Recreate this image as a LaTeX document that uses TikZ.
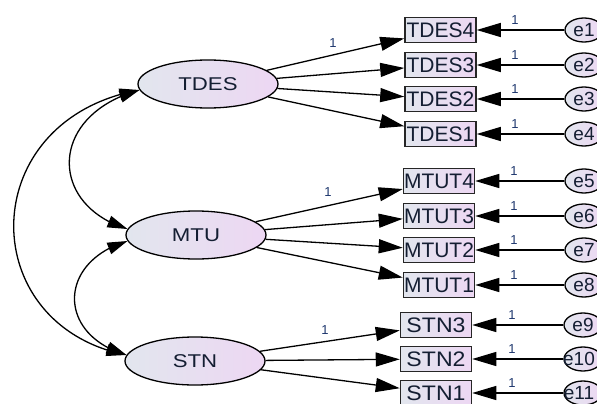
\documentclass[tikz,border=0pt]{standalone}
\usepackage{fontspec}
\setmainfont{Liberation Sans}
\usetikzlibrary{arrows.meta,shapes.geometric,bending}
\definecolor{fillL}{RGB}{226,230,238}
\definecolor{fillR}{RGB}{237,215,243}
\definecolor{navy}{RGB}{30,55,110}
\definecolor{txt}{RGB}{20,30,50}
\begin{document}
\begin{tikzpicture}[x=1pt,y=-1pt,
  latent/.style={ellipse,draw=black,line width=1.3pt,minimum width=140pt,minimum height=48pt,inner sep=0pt,left color=fillL,right color=fillR,font=\fontsize{18.5}{18.5}\selectfont,text=txt},
  obs/.style={rectangle,draw=black!85,line width=1.5pt,minimum width=71pt,minimum height=25pt,inner sep=0pt,left color=fillL,right color=fillR,font=\fontsize{21}{21}\selectfont,text=txt},
  err/.style={ellipse,draw=black,line width=1.3pt,minimum width=38pt,minimum height=24pt,inner sep=0pt,left color=fillL,right color=fillR,font=\fontsize{19}{19}\selectfont,text=txt},
  link/.style={draw,line width=1.3pt,-{Triangle[length=24pt,width=14pt]}},
  cov/.style={line width=1.3pt,{Triangle[length=20pt,width=12pt]}-{Triangle[length=20pt,width=12pt]}},
  one/.style={font=\fontsize{13}{13}\selectfont,text=navy,inner sep=0pt}]
\useasboundingbox (0,0) rectangle (597,404);
\node[latent] (TDES) at (208,84) {\scalebox{1.2}[1]{TDES}};
\node[latent] (MTU) at (196,235) {\scalebox{1.2}[1]{MTU}};
\node[latent] (STN) at (195,361) {\scalebox{1.2}[1]{STN}};
\foreach \n/\y/\e in {4/30/1,3/65/2,2/99/3,1/134/4}{
  \node[obs] (TDES\n) at (440.5,\y) {TDES\n};
  \node[err] (e\e) at (584,\y) {\makebox[0pt]{e\e}};
  \draw[link] (e\e) -- (TDES\n);
  \node[one] (l\e) at (515,\y-10) {1};
  \draw[link] (TDES) -- (TDES\n);
}
\foreach \n/\y/\e in {4/181/5,3/216/6,2/250/7,1/285/8}{
  \node[obs] (MTUT\n) at (439,\y) {MTUT\n};
  \node[err] (e\e) at (584,\y) {\makebox[0pt]{e\e}};
  \draw[link] (e\e) -- (MTUT\n);
  \node[one] (l\e) at (514,\y-10) {1};
  \draw[link] (MTU) -- (MTUT\n);
}
\node[obs] (STN3) at (436,325) {\scalebox{1.1}[1]{STN3}};
\node[obs] (STN2) at (436,359) {\scalebox{1.1}[1]{STN2}};
\node[obs] (STN1) at (436,393) {\scalebox{1.1}[1]{STN1}};
\node[err] (e9) at (583,325) {\makebox[0pt]{e9}};
\node[err] (e10) at (583,359) {\makebox[0pt]{\kern-8pt e10}};
\node[err] (e11) at (583,393) {\makebox[0pt]{\kern-8pt e11}};
\foreach \n/\y/\e in {3/325/9,2/359/10,1/393/11}{
  \draw[link] (e\e) -- (STN\n);
  \node[one] (l\e) at (512,\y-10) {1};
  \draw[link] (STN) -- (STN\n);
}
\node[one] (w1) at (333,43) {1};
\node[one] (w2) at (328,192) {1};
\node[one] (w3) at (325,330) {1};
\draw[cov] (TDES.185) .. controls (48,115) and (48,205) .. (MTU.175);
\draw[cov] (TDES.185) .. controls (-26,120) and (-26,325) .. (STN.175);
\draw[cov] (MTU.185) .. controls (57,262) and (57,335) .. (STN.175);
\end{tikzpicture}
\end{document}
